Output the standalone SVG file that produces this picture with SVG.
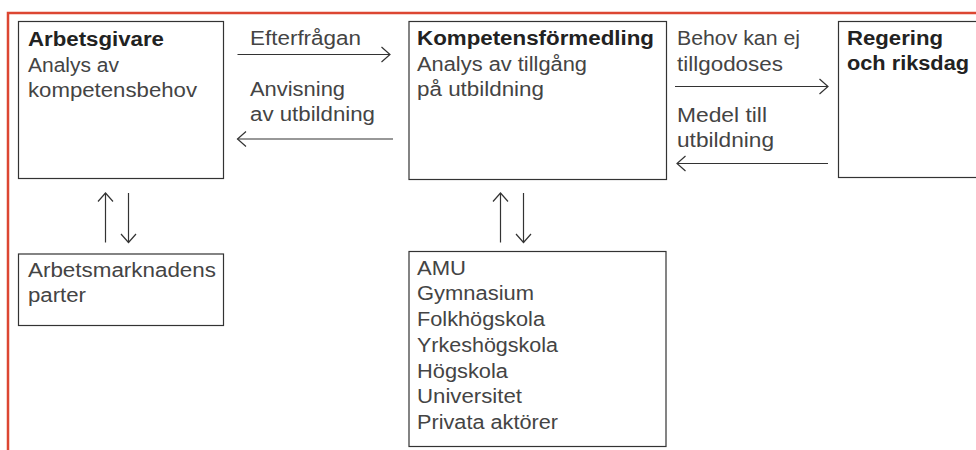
<svg xmlns="http://www.w3.org/2000/svg" width="976" height="450" viewBox="0 0 976 450">
<defs>
<style>
.frame{fill:none;stroke:#dc4632;stroke-width:2.5}
.box{fill:#fff;stroke:#333;stroke-width:1.2}
.b{font-family:"Liberation Sans",Arial,sans-serif;font-weight:bold;font-size:20px;fill:#222}
.t{font-family:"Liberation Sans",Arial,sans-serif;font-size:20px;fill:#444}
.c{fill:none;stroke:#333;stroke-width:1.2}
</style>
<marker id="ah" markerUnits="userSpaceOnUse" markerWidth="20" markerHeight="20" viewBox="-10 -10 20 20" refX="0" refY="0" orient="auto">
<path d="M-8.5,-7.5 L0,0 L-8.5,7.5" fill="none" stroke="#333" stroke-width="1.2"/>
</marker>
</defs>
<rect width="976" height="450" fill="#fff"/>
<path class="frame" d="M8,452 L8,13 L980,13"/>

<g id="arbetsgivare">
<rect class="box" x="18.5" y="21.5" width="205" height="157"/>
<text class="b" x="28" y="46" textLength="136" lengthAdjust="spacingAndGlyphs">Arbetsgivare</text>
<text class="t" x="28" y="71.5" textLength="91" lengthAdjust="spacingAndGlyphs">Analys av</text>
<text class="t" x="28" y="96.5" textLength="169" lengthAdjust="spacingAndGlyphs">kompetensbehov</text>
</g>

<g id="kompetensformedling">
<rect class="box" x="409" y="21.5" width="257.5" height="158"/>
<text class="b" x="417" y="45" textLength="237" lengthAdjust="spacingAndGlyphs">Kompetensförmedling</text>
<text class="t" x="417" y="70.5" textLength="170" lengthAdjust="spacingAndGlyphs">Analys av tillgång</text>
<text class="t" x="417" y="95.5" textLength="127" lengthAdjust="spacingAndGlyphs">på utbildning</text>
</g>

<g id="regering">
<rect class="box" x="838.5" y="21.5" width="160" height="156"/>
<text class="b" x="847" y="45" textLength="96" lengthAdjust="spacingAndGlyphs">Regering</text>
<text class="b" x="847" y="70" textLength="122" lengthAdjust="spacingAndGlyphs">och riksdag</text>
</g>

<g id="parter">
<rect class="box" x="18.5" y="254" width="205" height="71.5"/>
<text class="t" x="28" y="277" textLength="188" lengthAdjust="spacingAndGlyphs">Arbetsmarknadens</text>
<text class="t" x="28" y="302" textLength="58" lengthAdjust="spacingAndGlyphs">parter</text>
</g>

<g id="utbildare">
<rect class="box" x="409" y="251.5" width="257" height="195"/>
<text class="t" x="417" y="274.5" textLength="49" lengthAdjust="spacingAndGlyphs">AMU</text>
<text class="t" x="417" y="300" textLength="117" lengthAdjust="spacingAndGlyphs">Gymnasium</text>
<text class="t" x="417" y="326" textLength="128" lengthAdjust="spacingAndGlyphs">Folkhögskola</text>
<text class="t" x="417" y="352" textLength="141" lengthAdjust="spacingAndGlyphs">Yrkeshögskola</text>
<text class="t" x="417" y="377.5" textLength="91" lengthAdjust="spacingAndGlyphs">Högskola</text>
<text class="t" x="417" y="403" textLength="105" lengthAdjust="spacingAndGlyphs">Universitet</text>
<text class="t" x="417" y="428.5" textLength="141" lengthAdjust="spacingAndGlyphs">Privata aktörer</text>
</g>

<g id="connectors">
<line class="c" x1="237.5" y1="54.5" x2="390" y2="54.5" marker-end="url(#ah)"/>
<text class="t" x="250" y="45" textLength="111" lengthAdjust="spacingAndGlyphs">Efterfrågan</text>
<line class="c" x1="393" y1="139" x2="237.5" y2="139" marker-end="url(#ah)"/>
<text class="t" x="250" y="96" textLength="95" lengthAdjust="spacingAndGlyphs">Anvisning</text>
<text class="t" x="250" y="121" textLength="125" lengthAdjust="spacingAndGlyphs">av utbildning</text>
<line class="c" x1="675" y1="86.5" x2="828" y2="86.5" marker-end="url(#ah)"/>
<text class="t" x="677" y="45" textLength="123" lengthAdjust="spacingAndGlyphs">Behov kan ej</text>
<text class="t" x="677" y="70.5" textLength="106" lengthAdjust="spacingAndGlyphs">tillgodoses</text>
<line class="c" x1="828" y1="163.5" x2="677" y2="163.5" marker-end="url(#ah)"/>
<text class="t" x="677" y="121.5" textLength="90" lengthAdjust="spacingAndGlyphs">Medel till</text>
<text class="t" x="677" y="146.5" textLength="97" lengthAdjust="spacingAndGlyphs">utbildning</text>
<line class="c" x1="105.5" y1="242.5" x2="105.5" y2="193" marker-end="url(#ah)"/>
<line class="c" x1="128.5" y1="193" x2="128.5" y2="242.5" marker-end="url(#ah)"/>
<line class="c" x1="500.5" y1="242.5" x2="500.5" y2="193" marker-end="url(#ah)"/>
<line class="c" x1="523.5" y1="193" x2="523.5" y2="242.5" marker-end="url(#ah)"/>
</g>
</svg>
